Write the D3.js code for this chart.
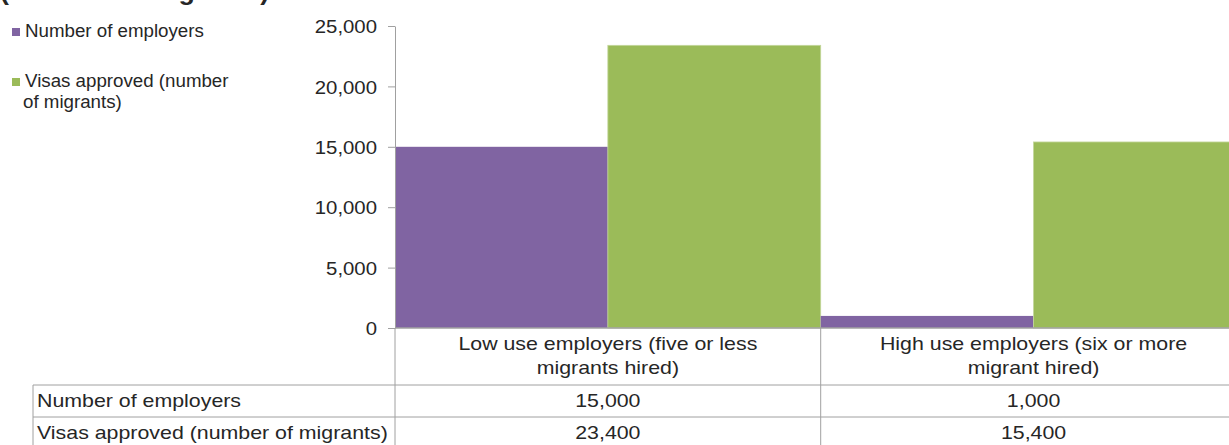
<!DOCTYPE html>
<html>
<head>
<meta charset="utf-8">
<script src="https://cdn.jsdelivr.net/npm/d3@7"></script>
<style>
  html, body { margin: 0; padding: 0; background: #fff; }
  svg { display: block; font-family: "Liberation Sans", Arial, sans-serif; }
  text { fill: #262626; }
</style>
</head>
<body>
<svg id="chart" width="1229" height="445"></svg>
<script>
// ---- data ----
const titleText = "(number of migrants)";
const categories = ["Low use employers (five or less migrants hired)", "High use employers (six or more migrant hired)"];
const categoryLines = [["Low use employers (five or less", "migrants hired)"], ["High use employers (six or more", "migrant hired)"]];
const seriesNames = ["Number of employers", "Visas approved (number of migrants)"];
const legendLines = [["Number of employers"], ["Visas approved (number", "of migrants)"]];
const employers = [15000, 1000];
const visas = [23400, 15400];
const yTicks = [0, 5000, 10000, 15000, 20000, 25000];
const colors = ["#8064A2", "#9BBB59"];

const seriesValues = [employers, visas];

const svg = d3.select("#chart");
const W = 1229, H = 445;
const gridColor = "#A0A0A0";

const y = d3.scaleLinear().domain([0, 25000]).range([328, 26]);
const x = d3.scaleBand().domain(categories).range([395, 1246.4]).padding(0);
const xs = d3.scaleBand().domain(seriesNames).range([0, x.bandwidth()]).padding(0);

// cut-off title at top (only its lower edge is visible, as in the source)
svg.append("text")
  .attr("transform", "translate(0,0) scale(1.03,1)")
  .attr("font-size", 26).attr("font-weight", "bold")
  .text(titleText);

// bars
const rows = categories.map((c, i) => ({cat: c, vals: seriesNames.map((s, j) => ({s, v: seriesValues[j][i], j}))}));
const cg = svg.append("g").selectAll("g").data(rows).join("g")
  .attr("transform", d => `translate(${x(d.cat)},0)`);
cg.selectAll("rect").data(d => d.vals).join("rect")
  .attr("x", d => xs(d.s))
  .attr("width", xs.bandwidth())
  .attr("y", d => y(d.v))
  .attr("height", d => y(0) - y(d.v))
  .attr("fill", d => colors[d.j])
  .attr("stroke", d => d.j === 1 ? "#C3D69B" : "none")
  .attr("stroke-width", 0.8);

// y axis
const yAxis = svg.append("g").attr("transform", "translate(395,0)")
  .call(d3.axisLeft(y).tickValues(yTicks).tickFormat(d3.format(",")).tickSize(7).tickSizeOuter(0));
yAxis.select(".domain").attr("stroke", gridColor);
yAxis.selectAll(".tick line").attr("stroke", gridColor);
yAxis.selectAll(".tick text")
  .attr("x", null).attr("dy", "0.36em")
  .attr("transform", "translate(-18,0) scale(1.1,1)")
  .attr("font-size", 18.5).attr("fill", "#262626")
  .attr("font-family", "Liberation Sans, Arial, sans-serif");

// x baseline
svg.append("line").attr("x1", 395).attr("x2", W).attr("y1", y(0)).attr("y2", y(0))
  .attr("stroke", gridColor).attr("stroke-width", 1.5);

// data table grid
const tableTop = y(0), row1 = 385, row2 = 417;
const tg = svg.append("g").attr("stroke", gridColor).attr("stroke-width", 1);
[row1, row2].forEach(yy => tg.append("line").attr("x1", 33).attr("x2", W).attr("y1", yy).attr("y2", yy));
tg.append("line").attr("x1", 33).attr("x2", 33).attr("y1", row1).attr("y2", H);
categories.forEach(c => {
  tg.append("line").attr("x1", x(c)).attr("x2", x(c)).attr("y1", tableTop).attr("y2", H);
});
tg.append("line").attr("x1", x(categories[1]) + x.bandwidth()).attr("x2", x(categories[1]) + x.bandwidth()).attr("y1", tableTop).attr("y2", H);

// category header labels
const sxT = 1.22;
categories.forEach((c, i) => {
  const cx = x(c) + x.bandwidth() / 2;
  categoryLines[i].forEach((ln, k) => {
    svg.append("text")
      .attr("transform", `translate(${cx},${350 + k * 23.5}) scale(${sxT},1)`)
      .attr("text-anchor", "middle").attr("font-size", 17.5)
      .text(ln);
  });
});

// table rows
const rowBase = [407, 439];
seriesNames.forEach((s, j) => {
  svg.append("text")
    .attr("transform", `translate(37,${rowBase[j]}) scale(${sxT},1)`)
    .attr("font-size", 17.5)
    .text(s);
  categories.forEach((c, i) => {
    svg.append("text")
      .attr("transform", `translate(${x(c) + x.bandwidth() / 2},${rowBase[j]}) scale(${sxT},1)`)
      .attr("text-anchor", "middle").attr("font-size", 17.5)
      .text(d3.format(",")(seriesValues[j][i]));
  });
});

// legend
const legendY = [28, 78];
seriesNames.forEach((s, j) => {
  svg.append("rect").attr("x", 12).attr("y", legendY[j]).attr("width", 8).attr("height", 8).attr("fill", colors[j]);
  legendLines[j].forEach((ln, k) => {
    svg.append("text")
      .attr("transform", `translate(${k === 0 ? 25 : 23},${legendY[j] + 9 + k * 20.5}) scale(1.07,1)`)
      .attr("font-size", 17.5)
      .text(ln);
  });
});
</script>
</body>
</html>
